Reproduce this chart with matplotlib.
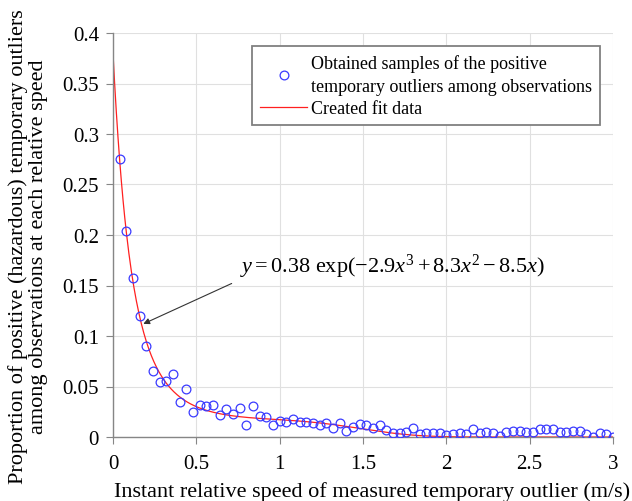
import matplotlib

matplotlib.use("Agg")
import matplotlib.pyplot as plt
import numpy as np
from matplotlib.ticker import FormatStrFormatter, MultipleLocator

plt.rcParams["font.family"] = ["Liberation Serif", "DejaVu Serif"]
plt.rcParams["mathtext.fontset"] = "custom"
plt.rcParams["mathtext.rm"] = "Liberation Serif"
plt.rcParams["mathtext.it"] = "Liberation Serif:italic"

# observed proportion of positive outliers, one sample every 0.04 m/s
speed = [round(0.04 * k, 2) for k in range(1, 76)]
proportion = [
    0.275, 0.204, 0.157, 0.120, 0.090, 0.065, 0.054, 0.055, 0.062, 0.035,
    0.048, 0.025, 0.032, 0.031, 0.032, 0.022, 0.028, 0.023, 0.029, 0.012,
    0.031, 0.0205, 0.0195, 0.012, 0.0155, 0.015, 0.0178, 0.015, 0.015, 0.014,
    0.012, 0.014, 0.0086, 0.014, 0.0062, 0.010, 0.0125, 0.0115, 0.009, 0.0115,
    0.0065, 0.004, 0.004, 0.005, 0.009, 0.0025, 0.004, 0.004, 0.0035, 0.0015,
    0.0025, 0.0035, 0.0025, 0.0075, 0.0035, 0.0046, 0.004, 0.001, 0.0046, 0.0055,
    0.0058, 0.005, 0.005, 0.0079, 0.0079, 0.0075, 0.0046, 0.005, 0.0055, 0.0055,
    0.0025, 0.0004, 0.0035, 0.0025, 0.0004,
]

# fitted model y = a * exp(b3 x^3 + b2 x^2 + b1 x)
fit_a, fit_b3, fit_b2, fit_b1 = 0.38, -2.9, 8.3, -8.5
fit_x = np.linspace(0, 3, 600)
fit_y = fit_a * np.exp(fit_b3 * fit_x**3 + fit_b2 * fit_x**2 + fit_b1 * fit_x)

fig = plt.figure(figsize=(6.32, 5.02), dpi=100)
ax = fig.add_axes([113 / 632, 64 / 502, 500 / 632, 404 / 502])

ax.plot(speed, proportion, "o", mfc="none", mec="#3a3aff", ms=6.3, mew=0.9,
        label="Obtained samples of the positive\ntemporary outliers among observations",
        zorder=3)
ax.plot(fit_x, fit_y, color="#ff2020", lw=0.9, label="Created fit data", zorder=2)

ax.set_xlim(0, 3)
ax.set_ylim(0, 0.4)
ax.xaxis.set_major_locator(MultipleLocator(0.5))
ax.yaxis.set_major_locator(MultipleLocator(0.05))
ax.xaxis.set_major_formatter(FormatStrFormatter("%g"))
ax.yaxis.set_major_formatter(FormatStrFormatter("%g"))
ax.grid(True, color="#e0e0e0", lw=0.8)
ax.set_axisbelow(True)
for side in ("top", "right"):
    ax.spines[side].set_visible(False)
for side in ("left", "bottom"):
    ax.spines[side].set_color("#868686")
    ax.spines[side].set_linewidth(1.0)
ax.tick_params(axis="both", colors="#868686", length=5, width=0.8,
               labelsize=15, labelcolor="black")
ax.tick_params(axis="x", pad=7)
ax.tick_params(axis="y", pad=5)

ax.set_xlabel("Instant relative speed of measured temporary outlier (m/s)",
              fontsize=16, va="top")
ax.xaxis.set_label_coords(0.518, -0.108)
ax.set_ylabel("Proportion of positive (hazardous) temporary outliers\n"
              "among observations at each relative speed",
              fontsize=16, linespacing=1.05)
ax.yaxis.set_label_coords(-0.13, 0.473)

# equation label with a separate pointer to the fitted curve
ax.text(0.764, 0.1695, r"$y = 0.38\ \mathrm{exp}(-2.9x^3 + 8.3x^2 - 8.5x)$",
        fontsize=16, va="center", ha="left")
ax.annotate("", xy=(0.182, 0.112), xytext=(0.712, 0.152),
            arrowprops=dict(arrowstyle="-|>", color="#333333", lw=0.8,
                            mutation_scale=9, shrinkA=0, shrinkB=0))

leg = ax.legend(loc="upper right", bbox_to_anchor=(600 / 632, 1 - 47 / 502),
                bbox_transform=fig.transFigure, fontsize=13, frameon=True,
                fancybox=False, framealpha=1, edgecolor="#808080",
                handlelength=2.6, handletextpad=0.2, borderpad=0.45,
                labelspacing=0.3, borderaxespad=0)
leg.get_frame().set_linewidth(1.3)
for t in leg.get_texts():
    t.set_linespacing(1.45)

fig.savefig("out.png", dpi=100)
